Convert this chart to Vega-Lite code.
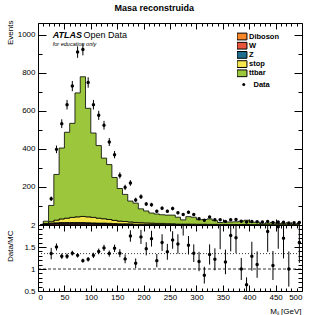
{
  "$schema": "https://vega.github.io/schema/vega-lite/v6.json",
  "background": "white",
  "padding": {"left": 5, "top": 3, "right": 8, "bottom": 2},
  "title": {"text": "Masa reconstruida", "fontSize": 9, "fontWeight": "bold", "font": "Liberation Sans", "anchor": "middle", "frame": "bounds", "offset": 7, "color": "black"},
  "datasets": {
    "bins": [
      {"m": 5, "Diboson": 0, "W": 0.5, "Z": 0.5, "stop": 0.5, "ttbar": 1.5, "data": null, "err": null, "ratio": null, "rerr": null},
      {"m": 15, "Diboson": 0.5, "W": 3, "Z": 1.5, "stop": 3, "ttbar": 12, "data": null, "err": null, "ratio": null, "rerr": null},
      {"m": 25, "Diboson": 1, "W": 5, "Z": 3, "stop": 8, "ttbar": 86, "data": 138, "err": 11.7, "ratio": 1.35, "rerr": 0.13},
      {"m": 35, "Diboson": 1.5, "W": 6, "Z": 4, "stop": 14, "ttbar": 240.5, "data": 398, "err": 20, "ratio": 1.5, "rerr": 0.08},
      {"m": 45, "Diboson": 2, "W": 7, "Z": 4, "stop": 19, "ttbar": 373, "data": 533, "err": 23.1, "ratio": 1.29, "rerr": 0.06},
      {"m": 55, "Diboson": 2, "W": 7, "Z": 4, "stop": 23, "ttbar": 452, "data": 633, "err": 25.2, "ratio": 1.29, "rerr": 0.06},
      {"m": 65, "Diboson": 2, "W": 7, "Z": 4, "stop": 27, "ttbar": 495, "data": 731, "err": 27, "ratio": 1.36, "rerr": 0.055},
      {"m": 75, "Diboson": 2, "W": 7, "Z": 4, "stop": 30, "ttbar": 652, "data": 910, "err": 30.2, "ratio": 1.31, "rerr": 0.05},
      {"m": 85, "Diboson": 2, "W": 7, "Z": 4, "stop": 32, "ttbar": 735, "data": 923, "err": 30.4, "ratio": 1.19, "rerr": 0.045},
      {"m": 95, "Diboson": 2, "W": 6, "Z": 4, "stop": 31, "ttbar": 571, "data": 750, "err": 27.4, "ratio": 1.22, "rerr": 0.05},
      {"m": 105, "Diboson": 2, "W": 6, "Z": 3, "stop": 29, "ttbar": 444, "data": 633, "err": 25.2, "ratio": 1.31, "rerr": 0.06},
      {"m": 115, "Diboson": 2, "W": 5, "Z": 3, "stop": 26, "ttbar": 382, "data": 577, "err": 24, "ratio": 1.4, "rerr": 0.065},
      {"m": 125, "Diboson": 2, "W": 5, "Z": 3, "stop": 23, "ttbar": 319, "data": 525, "err": 22.9, "ratio": 1.48, "rerr": 0.07},
      {"m": 135, "Diboson": 2, "W": 4, "Z": 3, "stop": 20, "ttbar": 289, "data": 437, "err": 20.9, "ratio": 1.35, "rerr": 0.07},
      {"m": 145, "Diboson": 1.5, "W": 4, "Z": 2, "stop": 17, "ttbar": 225.5, "data": 370, "err": 19.2, "ratio": 1.47, "rerr": 0.085},
      {"m": 155, "Diboson": 1.5, "W": 3, "Z": 2, "stop": 14, "ttbar": 171.5, "data": 261, "err": 16.2, "ratio": 1.36, "rerr": 0.09},
      {"m": 165, "Diboson": 1.5, "W": 3, "Z": 2, "stop": 12, "ttbar": 142.5, "data": 198, "err": 14.1, "ratio": 1.23, "rerr": 0.1},
      {"m": 175, "Diboson": 1, "W": 3, "Z": 2, "stop": 10, "ttbar": 110, "data": 221, "err": 14.9, "ratio": 1.75, "rerr": 0.13},
      {"m": 185, "Diboson": 1, "W": 2, "Z": 1.5, "stop": 9, "ttbar": 101.5, "data": 132, "err": 11.5, "ratio": 1.13, "rerr": 0.11},
      {"m": 195, "Diboson": 1, "W": 2, "Z": 1.5, "stop": 8, "ttbar": 72.5, "data": 149, "err": 12.2, "ratio": 1.73, "rerr": 0.16},
      {"m": 205, "Diboson": 1, "W": 2, "Z": 1, "stop": 7, "ttbar": 63, "data": 110, "err": 10.5, "ratio": 1.46, "rerr": 0.15},
      {"m": 215, "Diboson": 1, "W": 2, "Z": 1, "stop": 6, "ttbar": 53, "data": 107, "err": 10.3, "ratio": 1.69, "rerr": 0.18},
      {"m": 225, "Diboson": 1, "W": 1.5, "Z": 1, "stop": 5, "ttbar": 49.5, "data": 72, "err": 8.5, "ratio": 1.19, "rerr": 0.15},
      {"m": 235, "Diboson": 1, "W": 1.5, "Z": 1, "stop": 5, "ttbar": 45.5, "data": 88, "err": 9.4, "ratio": 1.6, "rerr": 0.19},
      {"m": 245, "Diboson": 0.5, "W": 1.5, "Z": 1, "stop": 4, "ttbar": 45, "data": 72, "err": 8.5, "ratio": 1.39, "rerr": 0.18},
      {"m": 255, "Diboson": 0.5, "W": 1, "Z": 1, "stop": 4, "ttbar": 45.5, "data": 87, "err": 9.3, "ratio": 1.66, "rerr": 0.2},
      {"m": 265, "Diboson": 0.5, "W": 1, "Z": 0.5, "stop": 3, "ttbar": 36, "data": 64, "err": 8, "ratio": 1.57, "rerr": 0.22},
      {"m": 275, "Diboson": 0.5, "W": 1, "Z": 0.5, "stop": 3, "ttbar": 22, "data": 55, "err": 7.4, "ratio": 2.04, "rerr": 0.28},
      {"m": 285, "Diboson": 0.5, "W": 1, "Z": 0.5, "stop": 3, "ttbar": 39, "data": 67, "err": 8.2, "ratio": 1.54, "rerr": 0.21},
      {"m": 295, "Diboson": 0.5, "W": 1, "Z": 0.5, "stop": 2.5, "ttbar": 36.5, "data": 55, "err": 7.4, "ratio": 1.36, "rerr": 0.2},
      {"m": 305, "Diboson": 0.5, "W": 1, "Z": 0.5, "stop": 2, "ttbar": 24, "data": 33, "err": 5.7, "ratio": 1.17, "rerr": 0.22},
      {"m": 315, "Diboson": 0.5, "W": 1, "Z": 0.5, "stop": 2, "ttbar": 25, "data": 25, "err": 5, "ratio": 0.86, "rerr": 0.19},
      {"m": 325, "Diboson": 0.5, "W": 0.5, "Z": 0.5, "stop": 2, "ttbar": 28.5, "data": 42, "err": 6.5, "ratio": 1.33, "rerr": 0.23},
      {"m": 335, "Diboson": 0.5, "W": 0.5, "Z": 0.5, "stop": 2, "ttbar": 19.5, "data": 28, "err": 5.3, "ratio": 1.22, "rerr": 0.25},
      {"m": 345, "Diboson": 0.5, "W": 0.5, "Z": 0.5, "stop": 1.5, "ttbar": 10, "data": 28, "err": 5.3, "ratio": 2.1, "rerr": 0.65},
      {"m": 355, "Diboson": 0.5, "W": 0.5, "Z": 0.5, "stop": 1.5, "ttbar": 13, "data": 19, "err": 4.4, "ratio": 1.16, "rerr": 0.28},
      {"m": 365, "Diboson": 0.5, "W": 0.5, "Z": 0.5, "stop": 1.5, "ttbar": 13, "data": 28, "err": 5.3, "ratio": 1.76, "rerr": 0.36},
      {"m": 375, "Diboson": 0.5, "W": 0.5, "Z": 0.5, "stop": 1, "ttbar": 14.5, "data": 29, "err": 5.4, "ratio": 1.71, "rerr": 0.35},
      {"m": 385, "Diboson": 0.5, "W": 0.5, "Z": 0.5, "stop": 1, "ttbar": 17.5, "data": 20, "err": 4.5, "ratio": 1.0, "rerr": 0.25},
      {"m": 395, "Diboson": 0.5, "W": 0.5, "Z": 0.5, "stop": 1, "ttbar": 22.5, "data": 16, "err": 4, "ratio": 0.64, "rerr": 0.17},
      {"m": 405, "Diboson": 0.3, "W": 0.5, "Z": 0.3, "stop": 1, "ttbar": 11.9, "data": 18, "err": 4.2, "ratio": 1.29, "rerr": 0.33},
      {"m": 415, "Diboson": 0.3, "W": 0.5, "Z": 0.3, "stop": 1, "ttbar": 12.9, "data": 17, "err": 4.1, "ratio": 1.1, "rerr": 0.3},
      {"m": 425, "Diboson": 0.3, "W": 0.3, "Z": 0.3, "stop": 0.8, "ttbar": 4.3, "data": 16, "err": 4, "ratio": 2.6, "rerr": 0.5},
      {"m": 435, "Diboson": 0.3, "W": 0.3, "Z": 0.3, "stop": 0.8, "ttbar": 8.3, "data": 18, "err": 4.2, "ratio": 1.85, "rerr": 0.46},
      {"m": 445, "Diboson": 0.3, "W": 0.3, "Z": 0.3, "stop": 0.8, "ttbar": 10.3, "data": 13, "err": 3.6, "ratio": 1.08, "rerr": 0.33},
      {"m": 455, "Diboson": 0.3, "W": 0.3, "Z": 0.3, "stop": 0.7, "ttbar": 6.4, "data": 16, "err": 4, "ratio": 1.96, "rerr": 0.5},
      {"m": 465, "Diboson": 0.3, "W": 0.3, "Z": 0.3, "stop": 0.7, "ttbar": 7.4, "data": 15, "err": 3.9, "ratio": 1.7, "rerr": 0.46},
      {"m": 475, "Diboson": 0.3, "W": 0.3, "Z": 0.3, "stop": 0.6, "ttbar": 8.5, "data": 10, "err": 3.2, "ratio": 1.0, "rerr": 0.4},
      {"m": 485, "Diboson": 0.2, "W": 0.3, "Z": 0.2, "stop": 0.5, "ttbar": 3.8, "data": 12, "err": 3.5, "ratio": 2.6, "rerr": 0.5},
      {"m": 495, "Diboson": 0.2, "W": 0.3, "Z": 0.2, "stop": 0.5, "ttbar": 6.8, "data": 13, "err": 3.6, "ratio": 1.6, "rerr": 0.46}
    ]
  },
  "spacing": 0,
  "bounds": "flush",
  "vconcat": [
    {
      "width": 264,
      "height": 202,
      "data": {"name": "bins"},
      "resolve": {"axis": {"x": "independent", "y": "independent"}},
      "layer": [
        {
          "transform": [{"fold": ["Diboson", "W", "Z", "stop", "ttbar"], "as": ["process", "events"]}],
          "mark": {"type": "area", "interpolate": "step", "stroke": "black", "strokeWidth": 0.8},
          "encoding": {
            "x": {"field": "m", "type": "quantitative", "scale": {"domain": [0, 500], "nice": false, "zero": false},
              "axis": {"orient": "bottom", "labels": false, "domain": false, "title": null, "grid": false,
                "values": [0,10,20,30,40,50,60,70,80,90,100,110,120,130,140,150,160,170,180,190,200,210,220,230,240,250,260,270,280,290,300,310,320,330,340,350,360,370,380,390,400,410,420,430,440,450,460,470,480,490,500],
                "tickColor": "black", "tickWidth": 1,
                "tickSize": {"condition": {"test": "datum.value % 50 === 0", "value": -6}, "value": -3}}},
            "y": {"field": "events", "type": "quantitative", "stack": "zero", "scale": {"domain": [0, 1063], "nice": false},
              "axis": {"orient": "left", "ticks": false, "domain": false, "grid": false, "values": [200, 400, 600, 800, 1000], "format": "d",
                "labelPadding": 3, "labelFontSize": 8, "labelFont": "Liberation Sans", "labelColor": "black",
                "title": "Events", "titleAnchor": "end", "titleFontSize": 8, "titleFont": "Liberation Sans", "titleFontWeight": "normal", "titleColor": "black", "titleX": -24, "titleY": -3}},
            "color": {"field": "process", "type": "nominal",
              "scale": {"domain": ["Diboson", "W", "Z", "stop", "ttbar"], "range": ["#f7872a", "#e8553c", "#1e6c8e", "#f5e64d", "#9cc63c"]},
              "legend": {"orient": "none", "legendX": 199, "legendY": 9, "title": null,
                "symbolType": "M-1.1,-0.75H1.1V0.75H-1.1Z", "symbolSize": 81, "symbolStrokeColor": "black", "symbolStrokeWidth": 1, "symbolOpacity": 1,
                "labelFont": "Liberation Sans", "labelFontWeight": "bold", "labelFontSize": 7.5, "labelColor": "black", "labelOffset": 2, "rowPadding": 0.2, "clipHeight": 9}},
            "order": {"field": "process", "sort": "ascending"}
          }
        },
        {
          "transform": [{"filter": "datum.data != null"}],
          "mark": {"type": "errorbar", "ticks": false, "color": "black", "thickness": 1},
          "encoding": {
            "x": {"field": "m", "type": "quantitative", "axis": null},
            "y": {"field": "data", "type": "quantitative", "axis": null},
            "yError": {"field": "err"}
          }
        },
        {
          "transform": [{"filter": "datum.data != null"}],
          "mark": {"type": "point", "filled": true, "size": 12, "color": "black", "opacity": 1},
          "encoding": {
            "x": {"field": "m", "type": "quantitative",
              "axis": {"orient": "top", "labels": false, "domain": false, "title": null, "grid": false,
                "values": [0,10,20,30,40,50,60,70,80,90,100,110,120,130,140,150,160,170,180,190,200,210,220,230,240,250,260,270,280,290,300,310,320,330,340,350,360,370,380,390,400,410,420,430,440,450,460,470,480,490,500],
                "tickColor": "black", "tickWidth": 1,
                "tickSize": {"condition": {"test": "datum.value % 50 === 0", "value": -6}, "value": -3}}},
            "y": {"field": "data", "type": "quantitative",
              "axis": {"orient": "left", "labels": false, "domain": false, "title": null, "grid": false,
                "values": [0,100,200,300,400,500,600,700,800,900,1000],
                "tickColor": "black", "tickWidth": 1,
                "tickSize": {"condition": {"test": "datum.value % 200 === 0", "value": -8}, "value": -4}}},
            "shape": {"datum": "Data", "scale": {"domain": ["Data"], "range": ["circle"]},
              "legend": {"orient": "none", "legendX": 202, "legendY": 57, "title": null, "symbolSize": 9, "symbolFillColor": "black", "symbolStrokeColor": "black", "symbolStrokeWidth": 0,
                "labelFont": "Liberation Sans", "labelFontWeight": "bold", "labelFontSize": 7.5, "labelColor": "black", "labelOffset": 6, "clipHeight": 9}}
          }
        },
        {
          "data": {"values": [{}]},
          "mark": {"type": "text", "text": "ATLAS", "font": "Liberation Sans", "fontSize": 9, "fontWeight": "bold", "fontStyle": "italic", "align": "left", "baseline": "alphabetic", "color": "black"},
          "encoding": {
            "x": {"datum": 28, "type": "quantitative", "axis": null},
            "y": {"datum": 984, "type": "quantitative",
              "axis": {"orient": "right", "labels": false, "domain": false, "title": null, "grid": false,
                "values": [0,100,200,300,400,500,600,700,800,900,1000],
                "tickColor": "black", "tickWidth": 1,
                "tickSize": {"condition": {"test": "datum.value % 200 === 0", "value": -8}, "value": -4}}}
          }
        },
        {
          "data": {"values": [{}]},
          "mark": {"type": "text", "text": "Open Data", "font": "Liberation Sans", "fontSize": 9, "align": "left", "baseline": "alphabetic", "color": "black"},
          "encoding": {
            "x": {"datum": 86, "type": "quantitative", "axis": null},
            "y": {"datum": 984, "type": "quantitative", "axis": null}
          }
        },
        {
          "data": {"values": [{}]},
          "mark": {"type": "text", "text": "for education only", "font": "Liberation Sans", "fontSize": 5.5, "fontStyle": "italic", "align": "left", "baseline": "alphabetic", "color": "black"},
          "encoding": {
            "x": {"datum": 28, "type": "quantitative", "axis": null},
            "y": {"datum": 942, "type": "quantitative", "axis": null}
          }
        }
      ]
    },
    {
      "width": 264,
      "height": 66,
      "data": {"name": "bins"},
      "resolve": {"axis": {"x": "independent", "y": "independent"}},
      "layer": [
        {
          "data": {"values": [{}]},
          "mark": {"type": "rule", "color": "black", "strokeWidth": 0.8, "strokeDash": [3, 2]},
          "encoding": {
            "x": {"datum": 0, "type": "quantitative", "scale": {"domain": [0, 500], "nice": false, "zero": false},
              "axis": {"orient": "top", "labels": false, "domain": false, "title": null, "grid": false,
                "values": [0,10,20,30,40,50,60,70,80,90,100,110,120,130,140,150,160,170,180,190,200,210,220,230,240,250,260,270,280,290,300,310,320,330,340,350,360,370,380,390,400,410,420,430,440,450,460,470,480,490,500],
                "tickColor": "black", "tickWidth": 1,
                "tickSize": {"condition": {"test": "datum.value % 50 === 0", "value": -6}, "value": -3}}},
            "x2": {"datum": 500},
            "y": {"datum": 1, "type": "quantitative", "scale": {"domain": [0.5, 2], "nice": false, "zero": false},
              "axis": {"orient": "left", "labels": false, "domain": false, "title": null, "grid": false,
                "values": [0.5,0.6,0.7,0.8,0.9,1,1.1,1.2,1.3,1.4,1.5,1.6,1.7,1.8,1.9,2],
                "tickColor": "black", "tickWidth": 1,
                "tickSize": {"condition": {"test": "round(datum.value*10) % 5 === 0", "value": -8}, "value": -4}}}
          }
        },
        {
          "data": {"values": [{}]},
          "mark": {"type": "rule", "color": "black", "strokeWidth": 0.8, "strokeDash": [1, 2]},
          "encoding": {
            "x": {"datum": 0, "type": "quantitative", "axis": null},
            "x2": {"datum": 500},
            "y": {"datum": 1.35, "type": "quantitative",
              "axis": {"orient": "right", "labels": false, "domain": false, "title": null, "grid": false,
                "values": [0.5,0.6,0.7,0.8,0.9,1,1.1,1.2,1.3,1.4,1.5,1.6,1.7,1.8,1.9,2],
                "tickColor": "black", "tickWidth": 1,
                "tickSize": {"condition": {"test": "round(datum.value*10) % 5 === 0", "value": -8}, "value": -4}}}
          }
        },
        {
          "transform": [{"filter": "datum.ratio != null"}],
          "mark": {"type": "errorbar", "ticks": false, "color": "black", "thickness": 1, "clip": true},
          "encoding": {
            "x": {"field": "m", "type": "quantitative",
              "axis": {"orient": "bottom", "labels": false, "domain": false, "title": null, "grid": false,
                "values": [0,10,20,30,40,50,60,70,80,90,100,110,120,130,140,150,160,170,180,190,200,210,220,230,240,250,260,270,280,290,300,310,320,330,340,350,360,370,380,390,400,410,420,430,440,450,460,470,480,490,500],
                "tickColor": "black", "tickWidth": 1,
                "tickSize": {"condition": {"test": "datum.value % 50 === 0", "value": -6}, "value": -3}}},
            "y": {"field": "ratio", "type": "quantitative", "axis": null},
            "yError": {"field": "rerr"}
          }
        },
        {
          "transform": [{"filter": "datum.ratio != null"}],
          "mark": {"type": "point", "filled": true, "size": 12, "color": "black", "opacity": 1, "clip": true},
          "encoding": {
            "x": {"field": "m", "type": "quantitative",
              "axis": {"orient": "bottom", "ticks": false, "domain": false, "grid": false, "values": [0,50,100,150,200,250,300,350,400,450,500],
                "labelFlush": true, "labelPadding": 2, "labelFontSize": 8, "labelFont": "Liberation Sans", "labelColor": "black",
                "title": "Mⱼⱼ [GeV]", "titleAnchor": "end", "titleFontSize": 8, "titleFont": "Liberation Sans", "titleFontWeight": "normal", "titleColor": "black", "titleBaseline": "alphabetic", "titleX": 263, "titleY": 22}},
            "y": {"field": "ratio", "type": "quantitative",
              "axis": {"orient": "left", "ticks": false, "domain": false, "grid": false, "values": [0.5, 1, 1.5, 2], "format": "~g",
                "labelPadding": 3, "labelFontSize": 8, "labelFont": "Liberation Sans", "labelColor": "black",
                "title": "Data/MC", "titleAnchor": "end", "titleFontSize": 8, "titleFont": "Liberation Sans", "titleFontWeight": "normal", "titleColor": "black", "titleX": -24, "titleY": 5}}
          }
        }
      ]
    }
  ],
  "config": {
    "font": "Liberation Sans",
    "view": {"stroke": "black", "strokeWidth": 1},
    "axis": {"grid": false}
  }
}
